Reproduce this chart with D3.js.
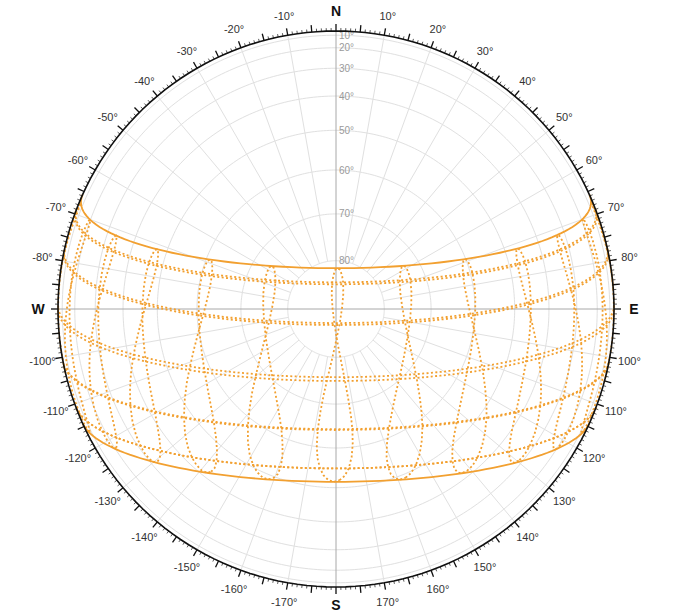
<!DOCTYPE html>
<html>
<head>
<meta charset="utf-8">
<script src="https://cdn.jsdelivr.net/npm/d3@7"></script>
<style>
  html, body { margin: 0; padding: 0; background: #fff; }
  svg { display: block; font-family: "Liberation Sans", Arial, Helvetica, sans-serif; }
</style>
</head>
<body>
<svg id="chart" width="693" height="613"></svg>
<script>
// ---------------- data ----------------
const LATITUDE = 15;          // site latitude (deg N)
const LON_OFFSET = 0;         // site longitude minus time-zone meridian (deg)

// declination of the sun on the 21st of each month (deg)
const monthNames = ["Jan","Feb","Mar","Apr","May","Jun","Jul","Aug","Sep","Oct","Nov","Dec"];
const monthDecl21 = [-20.0, -10.8, 0.0, 11.7, 20.1, 23.44, 20.5, 12.1, 0.8, -10.6, -20.0, -23.44];
const solidMonths = ["Jun", "Dec"];

// analemma samples (1st, 11th, 21st of each month)
const sampleDates = ["Jan 1","Jan 11","Jan 21","Feb 1","Feb 11","Feb 21","Mar 1","Mar 11","Mar 21",
  "Apr 1","Apr 11","Apr 21","May 1","May 11","May 21","Jun 1","Jun 11","Jun 21",
  "Jul 1","Jul 11","Jul 21","Aug 1","Aug 11","Aug 21","Sep 1","Sep 11","Sep 21",
  "Oct 1","Oct 11","Oct 21","Nov 1","Nov 11","Nov 21","Dec 1","Dec 11","Dec 21"];
const sampleDecl = [-23.0,-21.9,-20.0,-17.2,-14.2,-10.8,-7.8,-4.0,0.0,
  4.3,8.1,11.7,15.0,17.8,20.1,22.0,23.1,23.44,
  23.1,22.0,20.5,18.0,15.3,12.1,8.3,4.6,0.8,
  -3.0,-6.8,-10.6,-14.4,-17.5,-20.0,-21.8,-23.0,-23.44];
const sampleEoT = [-3.2,-7.7,-11.2,-13.5,-14.2,-13.8,-12.5,-10.2,-7.4,
  -4.1,-1.2,1.2,2.9,3.7,3.5,2.3,0.6,-1.5,
  -3.6,-5.3,-6.3,-6.3,-5.2,-3.2,0.0,3.3,6.8,
  10.2,13.0,15.2,16.4,16.0,14.0,11.0,6.8,2.0];   // minutes

const hours = [6,7,8,9,10,11,12,13,14,15,16,17,18];

const altRings = [10,20,30,40,50,60,70,80];
const altLabels = ["10°","20°","30°","40°","50°","60°","70°","80°"];
const azGridLines = d3.range(0, 360, 10);
const azLabelValues = [-170,-160,-150,-140,-130,-120,-110,-100,-80,-70,-60,-50,-40,-30,-20,-10,
  10,20,30,40,50,60,70,80,100,110,120,130,140,150,160,170];
const cardinals = [{t:"N", az:0}, {t:"E", az:90}, {t:"S", az:180}, {t:"W", az:-90}];

// ---------------- layout ----------------
const cx = 336, cy = 309, R = 278;
const SUN = "#f2a030";
const svg = d3.select("#chart");

const horizonProj = d3.geoOrthographic().scale(R).translate([cx, cy])
  .rotate([0, -90]).clipAngle(90).precision(0.1);
const skyProj = d3.geoOrthographic().scale(R).translate([cx, cy])
  .rotate([0, -LATITUDE]).clipAngle(90).precision(0.1);
const hPath = d3.geoPath(horizonProj);
const sPath = d3.geoPath(skyProj);
const azToLon = az => 180 - az;
const angle = d3.scaleLinear().domain([0, 360]).range([0, 2 * Math.PI]);

// background disk
svg.append("path").datum({type: "Sphere"}).attr("d", hPath).attr("fill", "#fff");

// grid: altitude rings
const grid = svg.append("g").attr("fill", "none").attr("stroke", "#e0e0e0").attr("stroke-width", 1);
altRings.forEach(a => {
  grid.append("path")
    .datum(d3.geoCircle().center([0, 90]).radius(90 - a).precision(1)())
    .attr("d", hPath);
});
// grid: azimuth lines (from 80° ring to horizon)
azGridLines.filter(a => a % 90 !== 0).forEach(a => {
  grid.append("path")
    .datum({type: "LineString", coordinates: [[azToLon(a), 80], [azToLon(a), 0]]})
    .attr("d", hPath);
});
// main axes
const axes = svg.append("g").attr("stroke", "#a8a8a8").attr("stroke-width", 1);
[[0, 180], [90, 270]].forEach(([a1, a2]) => {
  const p1 = horizonProj([azToLon(a1), 0]), p2 = horizonProj([azToLon(a2), 0]);
  axes.append("line").attr("x1", p1[0]).attr("y1", p1[1]).attr("x2", p2[0]).attr("y2", p2[1]);
});

// altitude labels
svg.append("g").selectAll("text").data(altRings).join("text")
  .attr("x", d => horizonProj([azToLon(0), d])[0] + 3)
  .attr("y", d => horizonProj([azToLon(0), d])[1])
  .attr("dominant-baseline", "central")
  .attr("font-size", 10).attr("fill", "#9a9a9a")
  .text((d, i) => altLabels[i]);

// ---------------- sun paths ----------------
const paths = svg.append("g").attr("fill", "none").attr("stroke", SUN);

// monthly daily paths (21st)
monthNames.forEach((m, i) => {
  const decl = monthDecl21[i];
  const coords = d3.range(-180, 181, 2).map(h => [-h, decl]);
  const solid = solidMonths.includes(m);
  paths.append("path")
    .datum({type: "LineString", coordinates: coords})
    .attr("d", sPath)
    .attr("stroke-width", 1.8)
    .attr("stroke-dasharray", solid ? null : "2,2.4");
});

// hourly analemmas
hours.forEach(h => {
  const coords = sampleDates.map((d, i) =>
    [-(15 * (h - 12) + sampleEoT[i] / 4 + LON_OFFSET), sampleDecl[i]]);
  coords.push(coords[0]);
  paths.append("path")
    .datum({type: "LineString", coordinates: coords})
    .attr("d", sPath)
    .attr("stroke-width", 1.8)
    .attr("stroke-dasharray", "2,2.4");
});

// ---------------- horizon circle & ticks ----------------
svg.append("path").datum({type: "Sphere"}).attr("d", hPath)
  .attr("fill", "none").attr("stroke", "#111").attr("stroke-width", 1.6);

const ticks = svg.append("g").attr("stroke", "#111");
d3.range(0, 360, 1).forEach(a => {
  const major = a % 5 === 0;
  const p1 = d3.pointRadial(angle(a), R);
  const p2 = d3.pointRadial(angle(a), R + (major ? 7 : 3));
  ticks.append("line")
    .attr("x1", cx + p1[0]).attr("y1", cy + p1[1])
    .attr("x2", cx + p2[0]).attr("y2", cy + p2[1])
    .attr("stroke-width", major ? 1.3 : 0.7);
});

// azimuth labels
svg.append("g").selectAll("text").data(azLabelValues).join("text")
  .attr("x", d => cx + d3.pointRadial(angle(d), R + 20)[0])
  .attr("y", d => cy + d3.pointRadial(angle(d), R + 20)[1])
  .attr("text-anchor", "middle").attr("dominant-baseline", "central")
  .attr("font-size", 11).attr("fill", "#333")
  .text(d => d + "°");

svg.append("g").selectAll("text").data(cardinals).join("text")
  .attr("x", d => cx + d3.pointRadial(angle(d.az), R + 20)[0])
  .attr("y", d => cy + d3.pointRadial(angle(d.az), d.az === 180 ? R + 18 : R + 20)[1])
  .attr("text-anchor", "middle").attr("dominant-baseline", "central")
  .attr("font-size", 14).attr("font-weight", "bold").attr("fill", "#111")
  .text(d => d.t);
</script>
</body>
</html>
